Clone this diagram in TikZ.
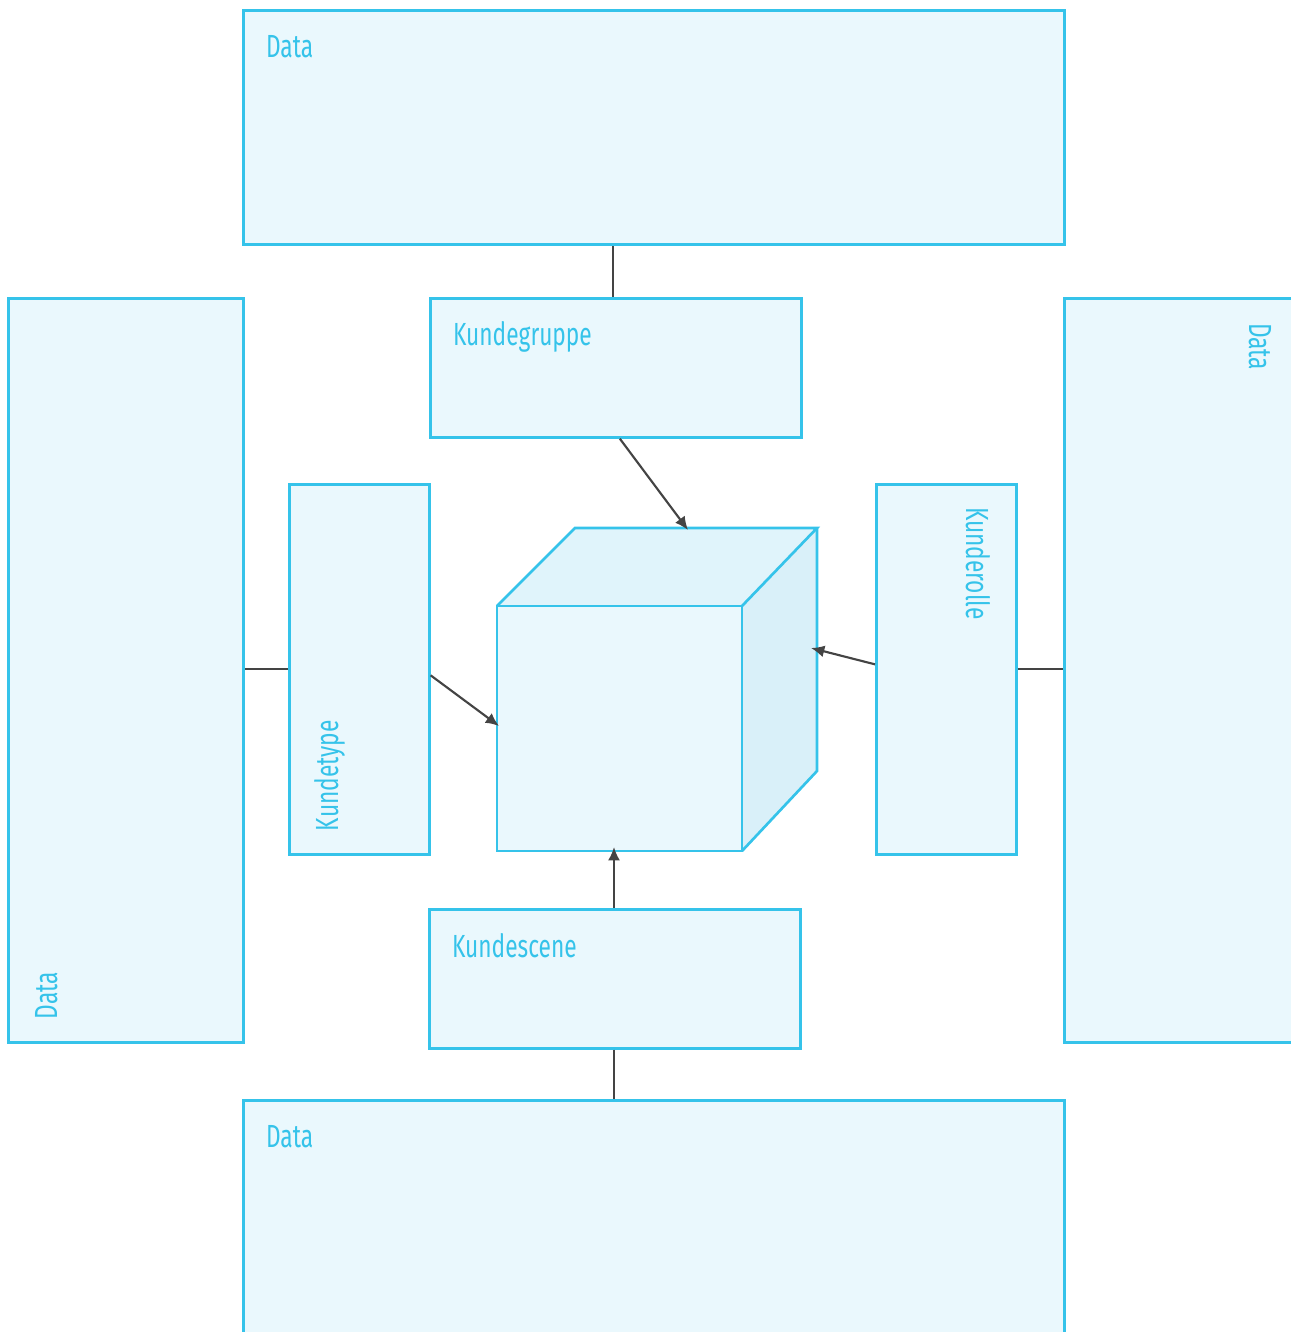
\documentclass[tikz,border=0pt]{standalone}
\usepackage{fontspec}
\setmainfont{Fira Sans}[FakeStretch=0.71]
\usetikzlibrary{arrows.meta}

\definecolor{boxline}{RGB}{53,195,234}
\definecolor{boxfill}{RGB}{234,248,253}
\definecolor{cubetopfill}{RGB}{224,244,251}
\definecolor{cubesidefill}{RGB}{217,240,249}
\definecolor{linkcol}{RGB}{68,68,68}

\tikzset{every picture/.style={line width=1.5pt}}
\tikzset{
  databox/.style={draw=boxline, fill=boxfill, line width=2pt, inner sep=0pt, anchor=north west},
  cubeface/.style={draw=boxline, line width=2pt, line join=miter},
  lbl/.style={text=boxline, inner sep=0pt, font=\fontsize{24}{28}\selectfont},
  link/.style={draw=linkcol, line width=1.6pt},
  arr/.style={link, -{Latex[length=10pt,width=9pt]}}
}

\begin{document}
\begin{tikzpicture}[x=0.75pt,y=0.75pt,yscale=-1,xscale=1]
      \useasboundingbox (0,0) rectangle (1291,1332);

      %Shape: Rectangle [Data top]
      \node[databox, minimum width=615.75pt, minimum height=175.5pt] (datatop) at (242,9) {};
      %Shape: Rectangle [Data left]
      \node[databox, minimum width=176.25pt, minimum height=558pt] (dataleft) at (7,297) {};
      %Shape: Rectangle [Data right]
      \node[databox, minimum width=177pt, minimum height=558pt] (dataright) at (1063,297) {};
      %Shape: Rectangle [Data bottom]
      \node[databox, minimum width=615.75pt, minimum height=180pt] (databottom) at (242,1099) {};

      %Shape: Rectangle [Kundegruppe]
      \node[databox, minimum width=278.25pt, minimum height=104.25pt] (kgruppe) at (429,297) {};
      %Shape: Rectangle [Kundetype]
      \node[databox, minimum width=105pt, minimum height=277.5pt] (ktype) at (288,483) {};
      %Shape: Rectangle [Kunderolle]
      \node[databox, minimum width=105pt, minimum height=277.5pt] (krolle) at (875,483) {};
      %Shape: Rectangle [Kundescene]
      \node[databox, minimum width=278.25pt, minimum height=104.25pt] (kscene) at (428,908) {};

      %Shape: Cube
      \coordinate (cfl) at (497,606);
      \coordinate (cfr) at (742,606);
      \coordinate (cbl) at (497,851);
      \coordinate (cbr) at (742,851);
      \coordinate (ctl) at (575,528);
      \coordinate (ctr) at (817,528);
      \coordinate (csr) at (817,771);
      \fill[boxfill] (cfl) -- (cfr) -- (cbr) -- (cbl) -- cycle ;
      \fill[cubetopfill] (cfl) -- (ctl) -- (ctr) -- (cfr) -- cycle ;
      \fill[cubesidefill] (cfr) -- (ctr) -- (csr) -- (cbr) -- cycle ;
      \draw[cubeface] (cfl) -- (cfr) -- (cbr) -- (cbl) -- cycle ;
      \draw[cubeface] (cfl) -- (ctl) -- (ctr) -- (cfr) ;
      \draw[cubeface] (ctr) -- (csr) -- (cbr) ;
      \coordinate (cubetop) at (688,530);
      \coordinate (cubeleft) at (499,726);
      \coordinate (cuberight) at (811,648);
      \coordinate (cubebottom) at (614,847);

      %Straight Lines
      \draw[link] (kgruppe.north -| 613,0) -- (datatop.south -| 613,0) ;
      \draw[link] (ktype.west) -- (dataleft.east |- ktype.west) ;
      \draw[link] (krolle.east) -- (dataright.west |- krolle.east) ;
      \draw[link] (kscene.south -| cubebottom) -- (databottom.north -| cubebottom) ;

      %Arrows
      \draw[arr] (kgruppe.south) ++(4,0) -- (cubetop) ;
      \draw[arr] (ktype.east) ++(0,6) -- (cubeleft) ;
      \draw[arr] (krolle.west) ++(0,-5) -- (cuberight) ;
      \draw[arr] (kscene.north -| cubebottom) -- (cubebottom) ;

      % Text Node
      \node[lbl, anchor=base west] (tdatatop) at (265,57) {Data};
      % Text Node
      \node[lbl, anchor=base west, rotate=90] (tdataleft) at (57,1020) {Data};
      % Text Node
      \node[lbl, anchor=base west, rotate=-90] (tdataright) at (1249,322) {Data};
      % Text Node
      \node[lbl, anchor=base west] (tdatabottom) at (265,1147) {Data};
      % Text Node
      \node[lbl, anchor=base west] (tkgruppe) at (452,345) {Kundegruppe};
      % Text Node
      \node[lbl, anchor=base west, rotate=90] (tktype) at (338,832) {Kundetype};
      % Text Node
      \node[lbl, anchor=base west, rotate=-90] (tkrolle) at (966,506) {Kunderolle};
      % Text Node
      \node[lbl, anchor=base west] (tkscene) at (451,957) {Kundescene};
\end{tikzpicture}
\end{document}
